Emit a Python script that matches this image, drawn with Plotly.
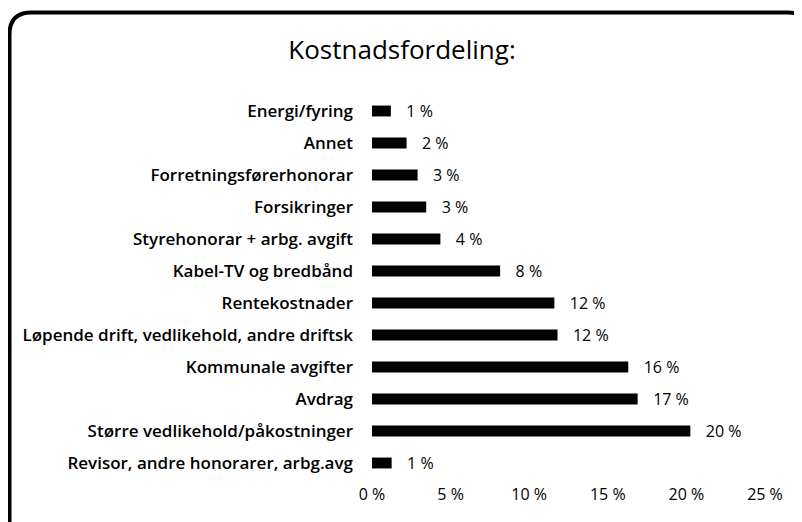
import plotly.graph_objects as go

categories = [
    "Energi/fyring",
    "Annet",
    "Forretningsførerhonorar",
    "Forsikringer",
    "Styrehonorar + arbg. avgift",
    "Kabel-TV og bredbånd",
    "Rentekostnader",
    "Løpende drift, vedlikehold, andre driftsk",
    "Kommunale avgifter",
    "Avdrag",
    "Større vedlikehold/påkostninger",
    "Revisor, andre honorarer, arbg.avg",
]
values = [1.2, 2.2, 2.9, 3.45, 4.35, 8.15, 11.6, 11.8, 16.3, 16.9, 20.25, 1.25]
value_labels = ["1 %", "2 %", "3 %", "3 %", "4 %", "8 %", "12 %", "12 %", "16 %", "17 %", "20 %", "1 %"]
tick_values = [0, 5, 10, 15, 20, 25]
tick_labels = ["0 %", "5 %", "10 %", "15 %", "20 %", "25 %"]

# page body adds an 8px offset; compensate so the picture lines up with the window
OFF = 8
W, H = 802 - OFF, 522 - OFF
L, R, T, B = 372 - OFF, 37, 95 - OFF, 43
pw, ph = W - L - R, H - T - B

def px(x):
    return (x - OFF - L) / pw

def py(y):
    return (H - B - (y - OFF)) / ph

fig = go.Figure(go.Bar(
    x=values, y=categories, orientation="h",
    marker=dict(color="black", line=dict(width=0)),
    text=value_labels, texttemplate="\u00a0\u00a0\u00a0%{text}",
    textposition="outside", constraintext="none",
    textfont=dict(family="Open Sans", size=16, color="black", weight=500),
    cliponaxis=False,
))

# rounded frame (paper coordinates); right and bottom edges run past the window
x0, x1, y0, y1, r = 9.5, 810, 12.5, 545, 22
path = (f"M {px(x0)},{py(y1)} L {px(x0)},{py(y0 + r)} "
        f"Q {px(x0)},{py(y0)} {px(x0 + r)},{py(y0)} "
        f"L {px(x1 - r)},{py(y0)} Q {px(x1)},{py(y0)} {px(x1)},{py(y0 + r)} "
        f"L {px(x1)},{py(y1)}")

fig.update_layout(
    width=W, height=H,
    margin=dict(l=L, r=R, t=T, b=B, autoexpand=False),
    paper_bgcolor="white", plot_bgcolor="white",
    showlegend=False,
    bargap=0.66,
    title=dict(text="Kostnadsfordeling:", x=(402 - OFF) / W, xref="container", xanchor="center",
               y=1 - (50 - OFF) / H, yref="container", yanchor="middle",
               font=dict(family="Open Sans", size=26, color="black")),
    font=dict(family="Open Sans", color="black"),
    xaxis=dict(range=[0, 25], tickvals=tick_values, ticktext=tick_labels,
               showgrid=False, zeroline=False, showline=False, automargin=False,
               tickfont=dict(family="Open Sans", size=16, color="black", weight=400),
               ticks="outside", ticklen=1, tickcolor="white"),
    yaxis=dict(autorange="reversed", showgrid=False, zeroline=False, showline=False,
               automargin=False,
               tickfont=dict(family="Open Sans", size=17, color="black", weight=600),
               ticklabelstandoff=18),
    shapes=[dict(type="path", path=path, xref="paper", yref="paper",
                 line=dict(color="black", width=4))],
)

fig.write_html("out.html")
